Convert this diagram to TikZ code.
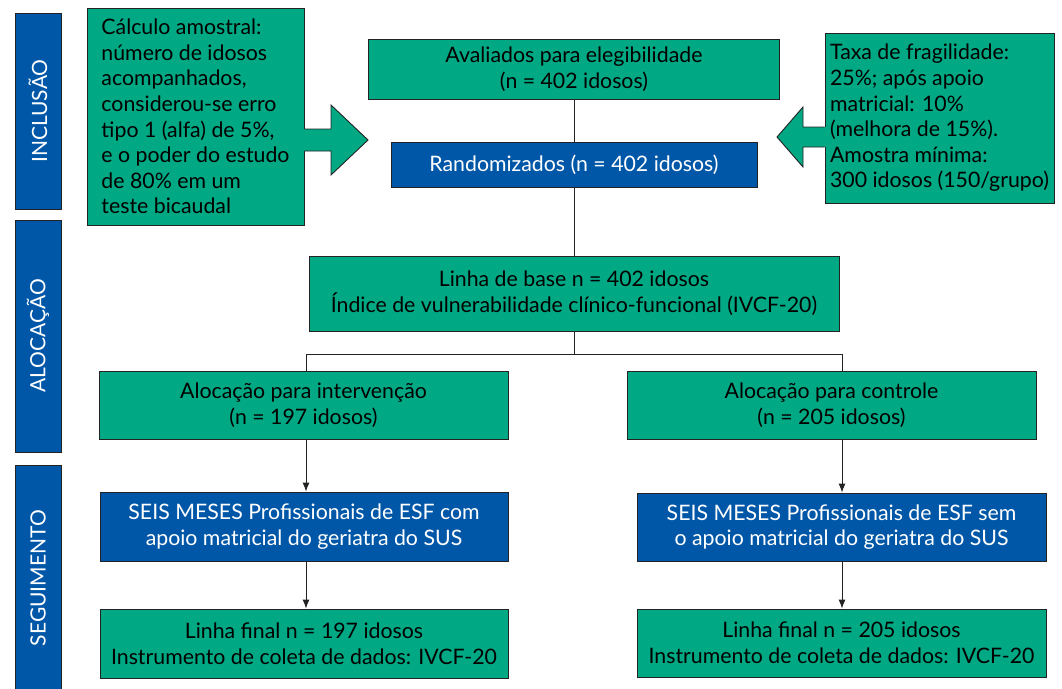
\documentclass[tikz,border=0pt]{standalone}
\usepackage{fontspec}
\setmainfont{Lato}
\usetikzlibrary{arrows.meta}
\definecolor{gr}{RGB}{0,168,132}
\definecolor{bl}{RGB}{0,87,168}
\definecolor{edge}{RGB}{35,35,35}
\begin{document}
\begin{tikzpicture}[x=1pt,y=-1pt,
  txt/.style={font=\fontsize{21.3}{25.6}\selectfont},
  gbox/.style={txt,draw=edge,line width=0.9pt,fill=gr,inner sep=0pt,align=center,text=black},
  bbox/.style={txt,draw=edge,line width=0.9pt,fill=bl,inner sep=0pt,align=center,text=white},
  side/.style={draw=edge,line width=0.9pt,fill=bl,inner sep=0pt,minimum width=46pt},
  sidetxt/.style={rotate=90,text=white,font=\fontsize{21}{24}\selectfont},
  conn/.style={draw=edge,line width=0.9pt},
  arr/.style={conn,-{Latex[length=9pt,width=7pt]}},
  bigarrow/.style={fill=gr,draw=edge,line width=0.9pt,line join=miter}]
\useasboundingbox (0,0) rectangle (1062,688);
\fill[white] (0,0) rectangle (1062,688);

% side bars
\node[side,minimum height=196pt] (sInc) at (38,111) {};
\node[sidetxt] (tInc) at (sInc.center) {INCLUSÃO};
\node[side,minimum height=232pt] (sAlo) at (38,336) {};
\node[sidetxt] (tAlo) at (sAlo.center) {ALOCAÇÃO};
\node[side,minimum height=226pt] (sSeg) at (38,578) {};
\node[sidetxt] (tSeg) at (sSeg.center) {SEGUIMENTO};

% side info boxes
\node[gbox,minimum width=217pt,minimum height=217pt,align=left] (calc) at (195.5,116.5)
  {Cálculo amostral:\\número de idosos\\acompanhados,\\considerou-se erro\\tipo 1 (alfa) de 5\%,\\e o poder do estudo\\de 80\% em um\\teste bicaudal};
\node[gbox,minimum width=229pt,minimum height=170pt,align=left] (taxa) at (939.5,118)
  {Taxa de fragilidade:\\25\%; após apoio\\matricial: 10\%\\(melhora de 15\%).\\Amostra mínima:\\300 idosos (150/grupo)};

% block arrows
\path[fill=gr] ([xshift=-1pt]calc.east |- 0,129) rectangle (332,151);
\draw[bigarrow] (calc.east |- 0,129) -- (331,129) -- (331,105) -- (368,140) -- (331,175) -- (331,151) -- (calc.east |- 0,151);
\path[fill=gr] ([xshift=1pt]taxa.west |- 0,127) rectangle (802,147);
\draw[bigarrow] (taxa.west |- 0,127) -- (803,127) -- (803,107) -- (777,137) -- (803,167) -- (803,147) -- (taxa.west |- 0,147);

% main flow
\node[gbox,minimum width=411pt,minimum height=60pt] (aval) at (574,69) {Avaliados para elegibilidade\\(n = 402 idosos)};
\node[bbox,minimum width=366pt,minimum height=45pt] (rand) at (574,164.5) {Randomizados (n = 402 idosos)};
\node[gbox,minimum width=530pt,minimum height=75pt] (base) at (574,293.5) {Linha de base n = 402 idosos\\Índice de vulnerabilidade clínico-funcional (IVCF-20)};
\node[gbox,minimum width=409pt,minimum height=68pt] (allocI) at (303.5,405) {Alocação para intervenção\\(n = 197 idosos)};
\node[gbox,minimum width=409pt,minimum height=68pt] (allocC) at (831.5,405) {Alocação para controle\\(n = 205 idosos)};
\node[bbox,minimum width=408pt,minimum height=69pt] (seisI) at (304,526.5) {SEIS MESES Profissionais de ESF com\\apoio matricial do geriatra do SUS};
\node[bbox,minimum width=409pt,minimum height=68pt] (seisC) at (841.5,527) {SEIS MESES Profissionais de ESF sem\\o apoio matricial do geriatra do SUS};
\node[gbox,minimum width=408pt,minimum height=69pt] (finI) at (304,643.5) {Linha final n = 197 idosos\\Instrumento de coleta de dados: IVCF-20};
\node[gbox,minimum width=409pt,minimum height=68pt] (finC) at (841.5,643) {Linha final n = 205 idosos\\Instrumento de coleta de dados: IVCF-20};

\coordinate (hL) at (306,354);
\coordinate (hR) at (842,354);
\draw[conn] (aval.south) -- (rand.north);
\draw[conn] (rand.south) -- (base.north);
\draw[conn] (base.south) -- (base.south |- hL);
\draw[conn] (hL) -- (hR);
\draw[conn] (hL) -- (hL |- allocI.north);
\draw[conn] (hR) -- (hR |- allocC.north);
\draw[arr] (allocI.south -| hL) -- (seisI.north -| hL);
\draw[arr] (seisI.south -| hL) -- (finI.north -| hL);
\draw[arr] (allocC.south -| hR) -- (seisC.north -| hR);
\draw[arr] (seisC.south -| hR) -- (finC.north -| hR);
\end{tikzpicture}
\end{document}
